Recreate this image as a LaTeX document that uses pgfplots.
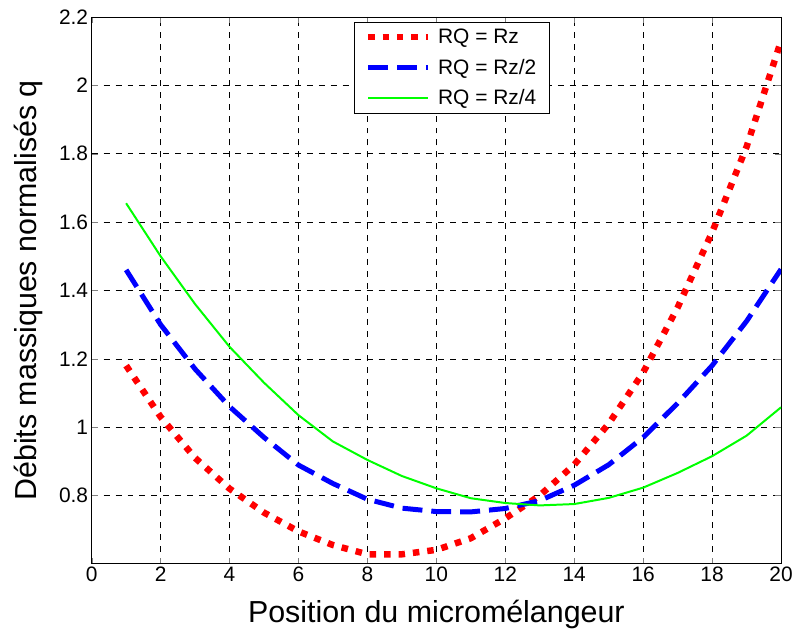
\documentclass[border=0pt]{standalone}
\usepackage{fontspec}
\setmainfont{Liberation Sans}
\usepackage{pgfplots}
\pgfplotsset{compat=1.18}
\begin{document}
\begin{tikzpicture}[x=1pt,y=1pt]
\begin{axis}[
  scale only axis,
  width=692pt, height=549pt,
  xmin=0, xmax=20, ymin=0.6, ymax=2.2,
  xtick={0,2,...,20},
  ytick={0.8,1,1.2,1.4,1.6,1.8,2,2.2},
  yticklabels={0.8,1,1.2,1.4,1.6,1.8,2,2.2},
  /pgf/number format/assume math mode=true,
  tick label style={font=\fontsize{21}{24}\selectfont},
  tick align=inside,
  major tick length=6pt,
  axis line style={black, line width=0.8pt},
  grid=major,
  grid style={black, dashed, line width=0.5pt, dash pattern=on 6pt off 6pt},
  xlabel={Position du micromélangeur},
  ylabel={Débits massiques normalisés q},
  label style={font=\fontsize{30.5}{34}\selectfont},
  xlabel style={at={(axis description cs:0.5,-0.1075)}, anchor=base},
  ylabel style={at={(axis description cs:-0.0795,0.5)}, anchor=base},
  legend style={at={(0.380,0.991)}, anchor=north west, font=\fontsize{21}{24}\selectfont,
    draw=black, line width=0.6pt, inner xsep=11pt, inner ysep=5pt, row sep=10pt, column sep=5pt,
    cells={anchor=west}},
  legend cell align=left,
  legend image code/.code={\draw[#1] (0pt,0pt) -- (60pt,0pt);},
]
\addplot[red, line width=6.5pt, dash pattern=on 6.5pt off 8pt] coordinates {
(1,1.18) (2,1.03) (3,0.91) (4,0.82) (5,0.75) (6,0.695) (7,0.655) (8,0.628) (9,0.628) (10,0.641)
(11,0.675) (12,0.733) (13,0.80) (14,0.89) (15,1.01) (16,1.16) (17,1.35) (18,1.57) (19,1.82) (20,2.13)};
\addlegendentry{RQ = Rz}
\addplot[blue, line width=5pt, dash pattern=on 20pt off 9pt] coordinates {
(1,1.46) (2,1.30) (3,1.17) (4,1.06) (5,0.97) (6,0.889) (7,0.835) (8,0.789) (9,0.763) (10,0.753)
(11,0.752) (12,0.762) (13,0.785) (14,0.83) (15,0.89) (16,0.97) (17,1.07) (18,1.18) (19,1.31) (20,1.462)};
\addlegendentry{RQ = Rz/2}
\addplot[green, line width=2pt] coordinates {
(1,1.655) (2,1.50) (3,1.36) (4,1.235) (5,1.13) (6,1.035) (7,0.958) (8,0.904) (9,0.857) (10,0.821)
(11,0.792) (12,0.778) (13,0.771) (14,0.775) (15,0.793) (16,0.823) (17,0.866) (18,0.915) (19,0.975) (20,1.058)};
\addlegendentry{RQ = Rz/4}
\end{axis}
\path[use as bounding box] (-92pt,-65pt) rectangle (704pt,566pt);
\end{tikzpicture}
\end{document}
